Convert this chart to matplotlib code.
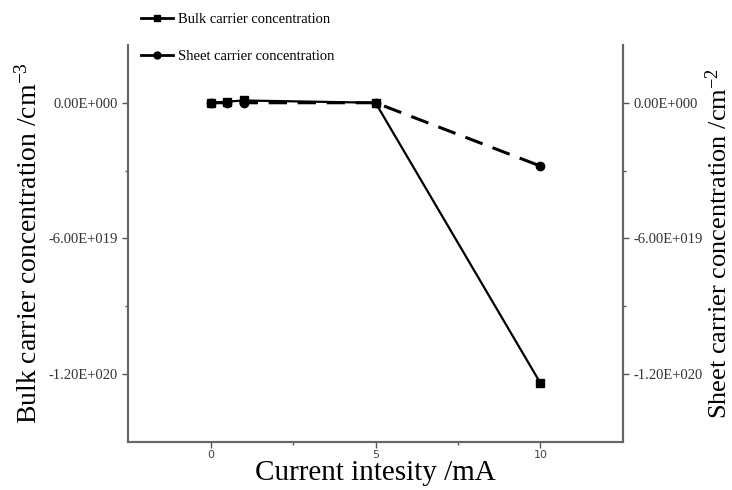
import numpy as np
import matplotlib
matplotlib.use("Agg")
import matplotlib.pyplot as plt
from matplotlib.lines import Line2D

plt.rcParams['font.family'] = 'Liberation Serif'
plt.rcParams['mathtext.fontset'] = 'custom'
plt.rcParams['mathtext.rm'] = 'Liberation Serif'
plt.rcParams['mathtext.it'] = 'Liberation Serif'

# data
current = [0, 0.5, 1, 5, 10]
bulk = [0, 5e17, 1e18, 0, -1.24e20]
sheet = [0, 0, 0, 0, -2.8e19]

yticks = [0, -6e19, -1.2e20]
ytick_labels = ['0.00E+000', '-6.00E+019', '-1.20E+020']
xticks = [0, 5, 10]

fig = plt.figure(figsize=(7.32, 4.9), dpi=100)
ax = fig.add_axes([0.175, 0.098, 0.676, 0.81])
ax2 = ax.twinx()

ax.plot(current, bulk, '-', color='black', lw=1.6, marker='s', ms=6)
ax.plot(current, sheet, '--', color='black', lw=2.2, marker='o', ms=6, dashes=(6, 3.5))

ax.set_xlim(-2.5, 12.5)
ax.set_ylim(-1.5e20, 2.55e19)
ax2.set_ylim(-1.5e20, 2.55e19)

ax.set_xticks(xticks)
ax.set_xticks([2.5, 7.5], minor=True)
ax.set_xticklabels([str(t) for t in xticks], fontsize=8, family='DejaVu Sans', color='#444444')
ax.tick_params(axis='x', which='major', pad=2)
for a in (ax, ax2):
    a.set_yticks(yticks)
    a.set_yticks([-3e19, -9e19], minor=True)
    a.set_yticklabels(ytick_labels, fontsize=10.5, color='#333333')
    a.tick_params(which='major', length=4, width=1, color='#555555')
    a.tick_params(which='minor', length=2, width=1, color='#555555')
    a.spines['top'].set_visible(False)
    for s in ('left', 'right', 'bottom'):
        a.spines[s].set_color('#666666')
        a.spines[s].set_linewidth(1.5)

ax.set_xlabel('Current intesity /mA', fontsize=21, labelpad=0)
ax.set_ylabel('Bulk carrier concentration /cm$^{\\mathregular{-3}}$', fontsize=20, labelpad=4)
ax2.set_ylabel('Sheet carrier concentration /cm$^{\\mathregular{-2}}$', fontsize=19, rotation=90, labelpad=2)

handles = [Line2D([], [], color='black', lw=2, marker='s', ms=5),
           Line2D([], [], color='black', lw=2, marker='o', ms=5)]
fig.legend(handles, ['Bulk carrier concentration', 'Sheet carrier concentration'],
           loc='upper left', bbox_to_anchor=(0.175, 1.0), frameon=False,
           fontsize=10.5, handlelength=2.2, labelspacing=1.6, handletextpad=0.3)

fig.savefig('out.png', dpi=100)
